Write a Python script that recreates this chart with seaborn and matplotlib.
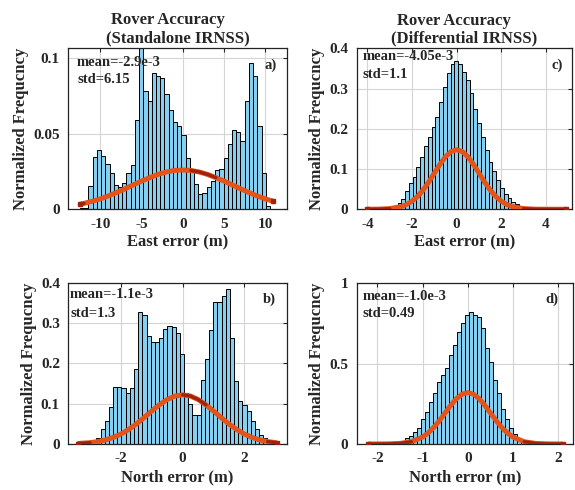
import numpy as np
import pandas as pd
import matplotlib
matplotlib.use('Agg')
import matplotlib.pyplot as plt
import seaborn as sns

sns.set_style('white')
plt.rcParams['font.family'] = ['Liberation Serif', 'DejaVu Serif']
plt.rcParams['font.weight'] = 'bold'
plt.rcParams['axes.labelweight'] = 'bold'
plt.rcParams['axes.titleweight'] = 'bold'

# --- histogram data (normalized frequency per bin) ---
east_sa_start, east_sa_width = -13.0, 0.513
east_sa_heights = [0, 0.0008, 0.0008, 0.0157, 0.0349, 0.0393, 0.0353, 0.030, 0.0238, 0.0161,
                   0.015, 0.0172, 0.0238, 0.0293, 0.0591, 0.12, 0.078, 0.072, 0.090, 0.088,
                   0.0868, 0.076, 0.066, 0.058, 0.055, 0.049, 0.034, 0.025, 0.0168, 0.010,
                   0.0105, 0.015, 0.019, 0.026, 0.027, 0.034, 0.043, 0.0525, 0.051, 0.045,
                   0.072, 0.097, 0.088, 0.055, 0.024, 0.002]

north_sa_start, north_sa_width = -3.06, 0.135
north_sa_heights = [0.003, 0.006, 0.014, 0.0375, 0.058, 0.093, 0.141, 0.141, 0.138, 0.127,
                    0.14, 0.187, 0.327, 0.32, 0.268, 0.252, 0.252, 0.262, 0.285, 0.293,
                    0.29, 0.275, 0.2225, 0.127, 0.099, 0.0725, 0.0725, 0.16, 0.212, 0.2825,
                    0.352, 0.352, 0.368, 0.385, 0.264, 0.156, 0.1075, 0.097, 0.081, 0.058,
                    0.038, 0.023, 0.014, 0.008, 0.004]

east_dg_start, east_dg_width = -2.99, 0.17
east_dg_heights = [0.006, 0.0085, 0.015, 0.025, 0.046, 0.065, 0.081, 0.104, 0.129, 0.157,
                   0.18, 0.205, 0.23, 0.267, 0.305, 0.338, 0.361, 0.369, 0.362, 0.34,
                   0.322, 0.288, 0.248, 0.214, 0.18, 0.147, 0.118, 0.096, 0.073, 0.052,
                   0.038, 0.027, 0.019, 0.013, 0.009, 0.006, 0.004]

north_dg_start, north_dg_width = -1.39, 0.0885
north_dg_heights = [0.039, 0.052, 0.077, 0.10, 0.156, 0.20, 0.263, 0.315, 0.384, 0.43,
                    0.475, 0.554, 0.616, 0.695, 0.751, 0.80, 0.82, 0.80, 0.79, 0.724,
                    0.60, 0.508, 0.398, 0.32, 0.218, 0.156, 0.098, 0.060, 0.035, 0.025,
                    0.014]

# --- fitted normal curves ---
east_sa_curve_x = [-12.5, -12, -11, -10, -9, -8, -7, -6, -5, -4, -3, -2, -1, 0,
                   1, 2, 3, 4, 5, 6, 7, 8, 9, 10, 11]
east_sa_curve_y = [0.0033, 0.0039, 0.0053, 0.0069, 0.0089, 0.0112, 0.0136, 0.0162, 0.0187,
                   0.0210, 0.0231, 0.0247, 0.0257, 0.0260, 0.0257, 0.0247, 0.0231, 0.0210,
                   0.0187, 0.0162, 0.0136, 0.0112, 0.0089, 0.0069, 0.0053]

north_sa_curve_x = [-3.4, -3, -2.75, -2.5, -2.25, -2, -1.75, -1.5, -1.25, -1, -0.75, -0.5, -0.25,
                    0, 0.25, 0.5, 0.75, 1, 1.25, 1.5, 1.75, 2, 2.25, 2.5, 2.75, 3.05]
north_sa_curve_y = [0.0012, 0.0033, 0.0059, 0.010, 0.0161, 0.0246, 0.0358, 0.0496, 0.0653,
                    0.0818, 0.0974, 0.1104, 0.119, 0.122, 0.119, 0.1104, 0.0974, 0.0818,
                    0.0653, 0.0496, 0.0358, 0.0246, 0.0161, 0.010, 0.0059, 0.003]

east_dg_curve_x = [-4, -3.5, -3, -2.5, -2.25, -2, -1.75, -1.5, -1.25, -1, -0.75, -0.5, -0.25,
                   0, 0.25, 0.5, 0.75, 1, 1.25, 1.5, 1.75, 2, 2.25, 2.5, 3, 3.5, 4, 4.9]
east_dg_curve_y = [0.0001, 0.0003, 0.0016, 0.0065, 0.0118, 0.020, 0.032, 0.048, 0.0678, 0.0898,
                   0.1117, 0.1306, 0.1434, 0.148, 0.1434, 0.1306, 0.1117, 0.0898, 0.0678,
                   0.048, 0.032, 0.020, 0.0118, 0.0065, 0.0016, 0.0003, 0.0001, 0.0]

north_dg_curve_x = [-2.2, -2, -1.75, -1.5, -1.25, -1, -0.875, -0.75, -0.625, -0.5, -0.375,
                    -0.25, -0.125, 0, 0.125, 0.25, 0.375, 0.5, 0.625, 0.75, 0.875, 1,
                    1.25, 1.5, 1.75, 2, 2.1]
north_dg_curve_y = [0, 0.0001, 0.0007, 0.0036, 0.014, 0.0433, 0.0692, 0.1039, 0.1465, 0.194,
                    0.2415, 0.2824, 0.3101, 0.32, 0.3101, 0.2824, 0.2415, 0.194, 0.1465,
                    0.1039, 0.0692, 0.0433, 0.014, 0.0036, 0.0007, 0.0001, 0]

# --- labels ---
titles = ['Rover Accuracy     \n(Standalone IRNSS)', 'Rover Accuracy     \n(Differential IRNSS)']
ylabel = 'Normalized Frequcncy'
stats_a = ['mean=-2.9e-3', 'std=6.15']
stats_b = ['mean=-1.1e-3', 'std=1.3']
stats_c = ['mean=-4.05e-3', 'std=1.1']
stats_d = ['mean=-1.0e-3', 'std=0.49']

bar_color = '#86CFF0'
orange = '#E4541A'
darkred = '#A0220E'

fig = plt.figure(figsize=(5.75, 4.9), dpi=100)


def panel(rect, start, width, heights, cx, cy, dark_ranges, xlim, ylim, xticks, yticks,
          yticklabels, xlabel, stats, stat_pos, tag, tag_pos, title=None):
    ax = fig.add_axes(rect)
    edges = [start + width * i for i in range(len(heights) + 1)]
    df = pd.DataFrame({'center': [e + width / 2 for e in edges[:-1]], 'height': heights})
    ax.set_axisbelow(True)
    ax.grid(True, color='#d4d4d4', lw=0.8)
    sns.histplot(data=df, x='center', weights='height', bins=edges, ax=ax, color=bar_color,
                 edgecolor='black', linewidth=0.7, alpha=1)
    cx = np.array(cx)
    cy = np.array(cy)
    ax.plot(cx, cy, color=orange, lw=3.6, solid_capstyle='butt', zorder=3)
    for lo, hi in dark_ranges:
        m = (cx >= lo) & (cx <= hi)
        ax.plot(cx[m], cy[m], color=darkred, lw=2.4, zorder=4)
    ax.plot([cx[0], cx[-1]], [cy[0], cy[-1]], 's', color=darkred, ms=2.5, zorder=4)
    ax.set_xlim(*xlim)
    ax.set_ylim(*ylim)
    ax.set_xticks(xticks)
    ax.set_xticklabels([str(t) for t in xticks])
    ax.set_yticks(yticks)
    ax.set_yticklabels(yticklabels)
    ax.tick_params(direction='in', length=3, width=0.8, top=True, right=True,
                   labelsize=11, pad=6)
    for s in ax.spines.values():
        s.set_color('#222222')
        s.set_linewidth(0.9)
    ax.set_xlabel(xlabel, fontsize=12, labelpad=3)
    ax.set_ylabel(ylabel, fontsize=12, labelpad=3)
    ax.text(stat_pos[0], stat_pos[1], stats[0], transform=ax.transAxes, fontsize=10.5,
            va='center', ha='left', zorder=6)
    ax.text(stat_pos[0], stat_pos[2], stats[1], transform=ax.transAxes, fontsize=10.5,
            va='center', ha='left', zorder=6)
    ax.text(tag_pos[0], tag_pos[1], tag, transform=ax.transAxes, fontsize=10.5,
            va='center', ha='center', zorder=6)
    if title:
        ax.set_title(title, fontsize=12, pad=4, linespacing=1.15)
    return ax


panel([0.1188, 0.5729, 0.381, 0.3298], east_sa_start, east_sa_width, east_sa_heights,
      east_sa_curve_x, east_sa_curve_y, [(-13, -12), (0.5, 4.2), (10.5, 12)],
      (-13.9, 12.7), (0, 0.107), [-10, -5, 0, 5, 10], [0, 0.05, 0.1], ['0', '0.05', '0.1'],
      'East error (m)', stats_a, (0.04, 0.91, 0.80), 'a)', (0.925, 0.89), titles[0])

panel([0.6203, 0.5729, 0.375, 0.3286], east_dg_start, east_dg_width, east_dg_heights,
      east_dg_curve_x, east_dg_curve_y, [(-5, -3.0), (3.0, 5)],
      (-4.48, 5.18), (0, 0.4), [-4, -2, 0, 2, 4], [0, 0.1, 0.2, 0.3, 0.4],
      ['0', '0.1', '0.2', '0.3', '0.4'],
      'East error (m)', stats_c, (0.028, 0.946, 0.834), 'c)', (0.93, 0.896), titles[1])

panel([0.1188, 0.0939, 0.380, 0.329], north_sa_start, north_sa_width, north_sa_heights,
      north_sa_curve_x, north_sa_curve_y, [(-3.5, -3.0), (0.0, 0.75), (2.75, 3.1)],
      (-3.7, 3.37), (0, 0.4), [-2, 0, 2], [0, 0.1, 0.2, 0.3, 0.4],
      ['0', '0.1', '0.2', '0.3', '0.4'],
      'North error (m)', stats_b, (0.008, 0.928, 0.81), 'b)', (0.922, 0.90))

panel([0.6203, 0.0939, 0.377, 0.328], north_dg_start, north_dg_width, north_dg_heights,
      north_dg_curve_x, north_dg_curve_y, [(-2.3, -1.25), (1.25, 2.2)],
      (-2.46, 2.34), (0, 1), [-2, -1, 0, 1, 2], [0, 0.5, 1], ['0', '0.5', '1'],
      'North error (m)', stats_d, (0.028, 0.917, 0.814), 'd)', (0.90, 0.90))

fig.savefig('out.png', dpi=100)
